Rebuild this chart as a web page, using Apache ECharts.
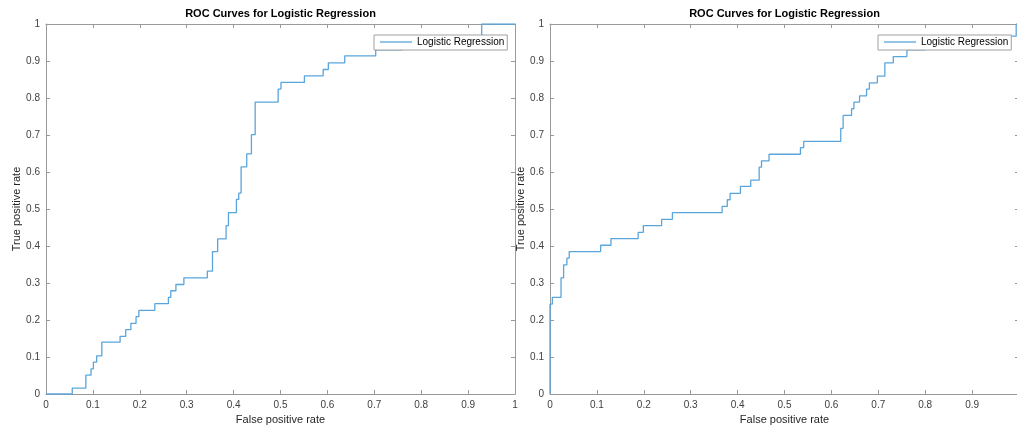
<!DOCTYPE html>
<html>
<head>
<meta charset="utf-8">
<script src="https://cdn.jsdelivr.net/npm/echarts@6/dist/echarts.min.js"></script>
<style>html,body{margin:0;padding:0;background:#fff}#c{width:1017px;height:429px}</style>
</head>
<body>
<div id="c"></div>
<script>
// Left panel ROC points (FPR, TPR)
const leftFPR = [0, 0.056, 0.085, 0.096, 0.101, 0.108, 0.119, 0.158, 0.170, 0.181, 0.192, 0.198, 0.232, 0.261, 0.266, 0.277, 0.294, 0.344, 0.355, 0.366, 0.384, 0.389, 0.406, 0.411, 0.416, 0.428, 0.438, 0.446, 0.495, 0.501, 0.551, 0.591, 0.602, 0.637, 0.703, 0.760, 0.929, 1];
const leftTPR = [0, 0.016, 0.051, 0.068, 0.086, 0.103, 0.140, 0.156, 0.174, 0.191, 0.209, 0.226, 0.244, 0.261, 0.279, 0.296, 0.314, 0.332, 0.385, 0.419, 0.455, 0.490, 0.526, 0.543, 0.614, 0.649, 0.701, 0.789, 0.824, 0.842, 0.860, 0.877, 0.895, 0.914, 0.930, 0.947, 1.0, 1.0];
// Right panel ROC points (FPR, TPR)
const rightFPR = [0, 0, 0.005, 0.0235, 0.029, 0.036, 0.041, 0.108, 0.130, 0.188, 0.199, 0.238, 0.261, 0.367, 0.378, 0.384, 0.406, 0.428, 0.446, 0.451, 0.467, 0.534, 0.541, 0.620, 0.625, 0.643, 0.648, 0.660, 0.675, 0.681, 0.698, 0.714, 0.732, 0.761, 0.800, 0.850, 0.994, 1];
const rightTPR = [0, 0.243, 0.261, 0.314, 0.349, 0.367, 0.385, 0.402, 0.420, 0.437, 0.455, 0.472, 0.490, 0.507, 0.525, 0.542, 0.561, 0.578, 0.613, 0.630, 0.648, 0.666, 0.683, 0.718, 0.753, 0.771, 0.789, 0.806, 0.824, 0.841, 0.859, 0.895, 0.912, 0.930, 0.947, 0.967, 1.0, 1.0];
const titleText = 'ROC Curves for Logistic Regression';
const seriesName = 'Logistic Regression';
const xName = 'False positive rate';
const yName = 'True positive rate';

const FONT = '"Liberation Sans", Arial, Helvetica, sans-serif';
const AX = '#999';
const LAB = '#404040';
const LINE = '#5aa5dc';

const grids = [
  {left: 46, top: 24, width: 469, height: 370},
  {left: 550, top: 24, width: 469, height: 370}
];

function pairs(xs, ys){ return xs.map((x,i)=>[x, ys[i]]); }

const xAxes = [], yAxes = [];
grids.forEach((g, gi) => {
  xAxes.push({
    gridIndex: gi, type: 'value', min: 0, max: 1, interval: 0.1, position: 'bottom',
    name: xName, nameLocation: 'middle', nameGap: 17,
    nameTextStyle: {fontFamily: FONT, fontSize: 11, color: '#262626'},
    axisLine: {show: true, onZero: false, lineStyle: {color: AX, width: 1}},
    axisTick: {show: true, inside: true, length: 4, lineStyle: {color: AX}},
    axisLabel: {fontFamily: FONT, fontSize: 10, color: LAB, margin: 6, hideOverlap: false, showMaxLabel: true, showMinLabel: true},
    splitLine: {show: false}
  });
  xAxes.push({
    gridIndex: gi, type: 'value', min: 0, max: 1, interval: 0.1, position: 'top',
    axisLine: {show: true, onZero: false, lineStyle: {color: AX, width: 1}},
    axisTick: {show: true, inside: true, length: 4, lineStyle: {color: AX}},
    axisLabel: {show: false}, splitLine: {show: false}
  });
  yAxes.push({
    gridIndex: gi, type: 'value', min: 0, max: 1, interval: 0.1, position: 'left',
    name: yName, nameLocation: 'middle', nameGap: 24,
    nameTextStyle: {fontFamily: FONT, fontSize: 11, color: '#262626'},
    axisLine: {show: true, onZero: false, lineStyle: {color: AX, width: 1}},
    axisTick: {show: true, inside: true, length: 4, lineStyle: {color: AX}},
    axisLabel: {fontFamily: FONT, fontSize: 10, color: LAB, margin: 6, showMaxLabel: true, showMinLabel: true},
    splitLine: {show: false}
  });
  yAxes.push({
    gridIndex: gi, type: 'value', min: 0, max: 1, interval: 0.1, position: 'right',
    axisLine: {show: true, onZero: false, lineStyle: {color: AX, width: 1}},
    axisTick: {show: true, inside: true, length: 4, lineStyle: {color: AX}},
    axisLabel: {show: false}, splitLine: {show: false}
  });
});

const seriesData = [pairs(leftFPR, leftTPR), pairs(rightFPR, rightTPR)];

const option = {
  animation: false,
  backgroundColor: '#fff',
  title: grids.map(g => ({
    text: titleText, left: g.left + g.width/2, top: 8, textAlign: 'center', padding: 0,
    textStyle: {fontFamily: FONT, fontSize: 11, fontWeight: 'bold', color: '#000'}
  })),
  legend: [
    {left: 374, top: 35},
    {left: 878, top: 35}
  ].map((p, i) => ({
    left: p.left, top: p.top, orient: 'vertical',
    data: [{name: seriesName}],
    padding: [2, 3, 3, 6], itemGap: 0,
    icon: 'rect', itemWidth: 32, itemHeight: 1.3,
    backgroundColor: '#fff', borderColor: '#a0a0a0', borderWidth: 1, borderRadius: 0,
    textStyle: {fontFamily: FONT, fontSize: 10, color: '#000'},
    selectedMode: false
  })),
  grid: grids.map(g => Object.assign({containLabel: false, outerBoundsMode: 'none'}, g)),
  xAxis: xAxes,
  yAxis: yAxes,
  series: seriesData.map((d, i) => ({
    name: seriesName, type: 'line', step: 'end',
    xAxisIndex: i*2, yAxisIndex: i*2,
    data: d, showSymbol: false, symbol: 'none', clip: true,
    lineStyle: {color: LINE, width: 1.3},
    itemStyle: {color: LINE},
    z: 2
  }))
};

const chart = echarts.init(document.getElementById('c'), null, {renderer: 'canvas'});
chart.setOption(option);
</script>
</body>
</html>
